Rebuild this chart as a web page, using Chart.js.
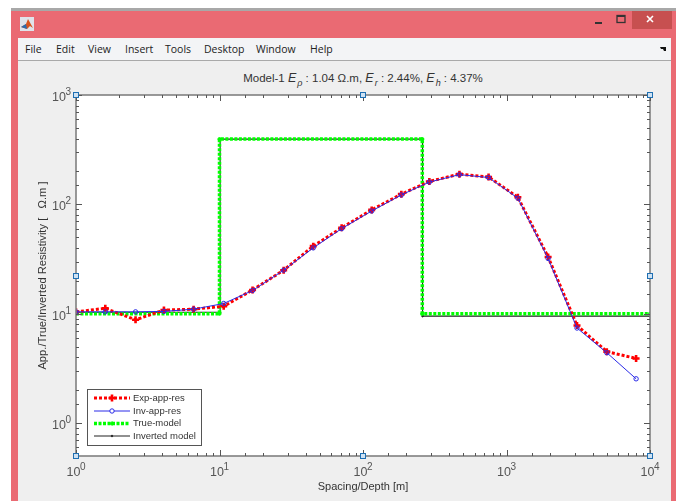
<!DOCTYPE html>
<html><head><meta charset="utf-8">
<script src="https://cdn.jsdelivr.net/npm/chart.js@4"></script>
<style>
html,body{margin:0;padding:0;background:#fff;overflow:hidden}
#win{position:absolute;left:0;top:0;width:676px;height:501px;background:#fff;font-family:"Liberation Sans",Arial,sans-serif}
.b{position:absolute}
.m{position:absolute;top:41px;font:10.5px/16px "Open Sans",sans-serif;color:#222}
#ttl{position:absolute;left:0;width:726px;text-align:center;top:71px;font-size:11.5px;line-height:14px;color:#333;white-space:nowrap}
#ttl i{font-size:12.5px}
#ttl sub{font-size:9px;line-height:0;vertical-align:-4px;margin-left:1px;margin-right:0}
canvas{position:absolute;left:0;top:0}
</style></head><body>
<div id="win">
<div class="b" style="left:11px;top:8px;width:665px;height:3px;background:#a8a8a8"></div>
<div class="b" style="left:11px;top:11px;width:665px;height:490px;background:#ea6a73"></div>
<div class="b" style="left:632px;top:11px;width:40px;height:18px;background:#c75050"></div>
<div class="b" style="left:18px;top:38px;width:653px;height:463px;background:#efefef"></div>
<div class="b" style="left:18px;top:38px;width:653px;height:22px;background:#f3f4f6"></div>
<div class="b" style="left:18px;top:60px;width:653px;height:1px;background:#a9a9a9"></div>
<svg class="b" style="left:20px;top:17px" width="14" height="14"><rect width="14" height="14" fill="#dfe3ea"/><path d="M1 10L6 7L8 2L13 11L10 9L7 12Z" fill="#d9541e"/><path d="M1 10L6 7L7 12Z" fill="#2a6db0"/></svg>
<svg class="b" style="left:590px;top:14px" width="80" height="14"><rect x="5" y="8" width="7" height="2" fill="#333"/><rect x="27" y="1.5" width="8" height="7" fill="none" stroke="#333" stroke-width="1.3"/><rect x="27" y="1" width="8" height="2" fill="#333"/><path d="M57 2L63 8M63 2L57 8" stroke="#fff" stroke-width="1.6"/></svg>
<svg class="b" style="left:660px;top:46px" width="7" height="6"><path d="M0 1L6 1L6 5L4 5L3 3L1 3Z" fill="#111"/></svg>
<span class="m" style="left:25px">File</span><span class="m" style="left:56px">Edit</span><span class="m" style="left:88px">View</span><span class="m" style="left:125px">Insert</span><span class="m" style="left:165px">Tools</span><span class="m" style="left:204px">Desktop</span><span class="m" style="left:256px">Window</span><span class="m" style="left:310px">Help</span>
<div id="ttl">Model-1 <i>E<sub>ρ</sub></i> : 1.04 Ω.m, <i>E<sub>r</sub></i> : 2.44%, <i>E<sub>h</sub></i> : 4.37%</div>
<canvas id="c" width="676" height="501"></canvas>
</div>
<script>
const spacing=[1,1.6,2.6,4.1,6.6,10.7,17,28,45,71,115,185,290,470,750,1200,1950,3100,5000,8000];
const expRes=[10.4,11.2,8.8,10.8,11,11.7,16.5,25,41.5,61,89,124,162,189,178,116,33,7.8,4.5,3.9];
const invRes=[10.4,10.4,10.4,10.5,11,12.4,16.3,25,40,60,87,122,160,187,176,114,32,7.4,4.4,2.54];
const trueDepth=[1,10,10,259,259,10000];
const trueRes=[10,10,395,395,10,10];
const invDepth=[1,10.1,10.1,260,260,10000];
const invModel=[10.3,10.3,395,395,9.5,9.5];
const seriesNames=['Exp-app-res','Inv-app-res','True-model','Inverted model'];
const xTickLabels={1:'0',10:'1',100:'2',1000:'3',10000:'4'};
const yTickLabels={1:'0',10:'1',100:'2',1000:'3'};
const tickBase='10';
const pts=(xs,ys)=>xs.map((x,i)=>({x,y:ys[i]}));
const sty=[
 {c:'#ff0000',w:3,d:[3,2],ps:'cross',r:3.5,bw:2.6},
 {c:'#2a2ae8',w:1,d:[],ps:'circle',r:2.2,bw:1},
 {c:'#00ff00',w:3.5,d:[3,1.5],ps:'circle',r:1.6,bw:1},
 {c:'#222222',w:1.1,d:[],ps:'circle',r:0.8,bw:1}];
const ds=(i,data,order)=>({label:seriesNames[i],data,order,showLine:true,tension:0,fill:false,
 borderColor:sty[i].c,backgroundColor:i==1?'rgba(0,0,0,0)':sty[i].c,borderWidth:sty[i].w,borderDash:sty[i].d,
 pointStyle:sty[i].ps,pointRadius:sty[i].r,pointBorderWidth:sty[i].bw,pointBorderColor:sty[i].c,pointBackgroundColor:i==1?'rgba(0,0,0,0)':sty[i].c});
const ink='#555';
const frame={id:'frame',
 beforeDatasetsDraw(ch){const a=ch.chartArea,c=ch.ctx;c.save();c.fillStyle='#fff';c.fillRect(a.left,a.top,a.width,a.height);c.restore();},
 afterDraw(ch){const a=ch.chartArea,c=ch.ctx,X=ch.scales.x,Y=ch.scales.y;c.save();
  c.strokeStyle='#808080';c.lineWidth=1.6;c.strokeRect(a.left,a.top,a.width,a.height);
  c.strokeStyle='#555';c.lineWidth=1;c.beginPath();
  X.ticks.forEach(t=>{const p=Math.round(X.getPixelForValue(t.value))+.5,l=xTickLabels[t.value]?6:3;c.moveTo(p,a.bottom);c.lineTo(p,a.bottom-l);c.moveTo(p,a.top);c.lineTo(p,a.top+l);});
  Y.ticks.forEach(t=>{const p=Math.round(Y.getPixelForValue(t.value))+.5,l=yTickLabels[t.value]?6:3;c.moveTo(a.left,p);c.lineTo(a.left+l,p);c.moveTo(a.right,p);c.lineTo(a.right-l,p);});
  c.stroke();
  // tick labels: base and raised exponent, placed from the library's scales
  c.fillStyle=ink;c.textBaseline='alphabetic';c.textAlign='left';
  const lab=(x,y,e)=>{c.font='12.5px "Liberation Sans"';c.fillText(tickBase,x,y);c.font='10px "Liberation Sans"';c.fillText(e,x+13.5,y-6);};
  X.ticks.forEach(t=>{const e=xTickLabels[t.value];if(e)lab(X.getPixelForValue(t.value)-9.5,476,e);});
  Y.ticks.forEach(t=>{const e=yTickLabels[t.value];if(e)lab(52,Y.getPixelForValue(t.value)+6,e);});
  // legend
  const lx=87,ly=389,lw=114,lh=56,rows=[398,411,423.5,436];
  c.fillStyle='#fff';c.fillRect(lx,ly,lw,lh);c.strokeStyle='#555';c.lineWidth=1;c.strokeRect(lx+.5,ly+.5,lw,lh);
  c.font='9.5px "Liberation Sans"';c.textBaseline='middle';
  rows.forEach((y,i)=>{const s=sty[i];c.strokeStyle=s.c;c.lineWidth=s.w;c.setLineDash(s.d);
   c.beginPath();c.moveTo(94,y);c.lineTo(130,y);c.stroke();c.setLineDash([]);
   c.lineWidth=s.bw;c.fillStyle=i==1?'#fff':s.c;
   c.beginPath();
   if(s.ps==='cross'){c.lineWidth=2.6;c.moveTo(108.5,y);c.lineTo(115.5,y);c.moveTo(112,y-3.5);c.lineTo(112,y+3.5);c.stroke();}
   else{c.arc(112,y,s.r,0,7);c.fill();c.stroke();}
   c.fillStyle='#333';c.fillText(seriesNames[i],133,y);});
  // selection handles
  const mx=(a.left+a.right)/2,my=(a.top+a.bottom)/2;
  [[a.left,a.top],[mx,a.top],[a.right,a.top],[a.left,my],[a.right,my],[a.left,a.bottom],[mx,a.bottom],[a.right,a.bottom]].forEach(([x,y])=>{
   c.fillStyle='#cfe2f3';c.strokeStyle='#1f6fb2';c.lineWidth=1;const q=Math.round(x)-2.5,r=Math.round(y)-2.5;c.fillRect(q,r,5,5);c.strokeRect(q,r,5,5);});
  c.restore();}};
new Chart(document.getElementById('c'),{type:'scatter',
 data:{datasets:[ds(1,pts(spacing,invRes),1),ds(0,pts(spacing,expRes),2),ds(2,pts(trueDepth,trueRes),3),ds(3,pts(invDepth,invModel),4)]},
 plugins:[frame],
 options:{responsive:false,animation:false,events:[],
  layout:{padding:{top:95,right:26,left:0,bottom:0}},
  plugins:{legend:{display:false},title:{display:false},tooltip:{enabled:false}},
  scales:{
   x:{type:'logarithmic',min:1,max:10000,grid:{display:false},border:{display:false},
    afterFit(s){s.height=45;},
    ticks:{display:true,autoSkip:false,maxRotation:0,color:'rgba(0,0,0,0)',callback:()=>''},
    title:{display:true,text:'Spacing/Depth [m]',color:'#333',font:{family:'"Liberation Sans"',size:11},padding:{top:0,bottom:7}}},
   y:{type:'logarithmic',min:0.5,max:1000,grid:{display:false},border:{display:false},
    afterFit(s){s.width=76;},
    ticks:{display:true,autoSkip:false,color:'rgba(0,0,0,0)',callback:()=>''},
    title:{display:true,text:'App./True/Inverted Resistivity [   Ω.m ]',color:'#333',font:{family:'"Liberation Sans"',size:11.2},padding:{top:36,bottom:0}}}
  }}});
</script>
</body></html>
